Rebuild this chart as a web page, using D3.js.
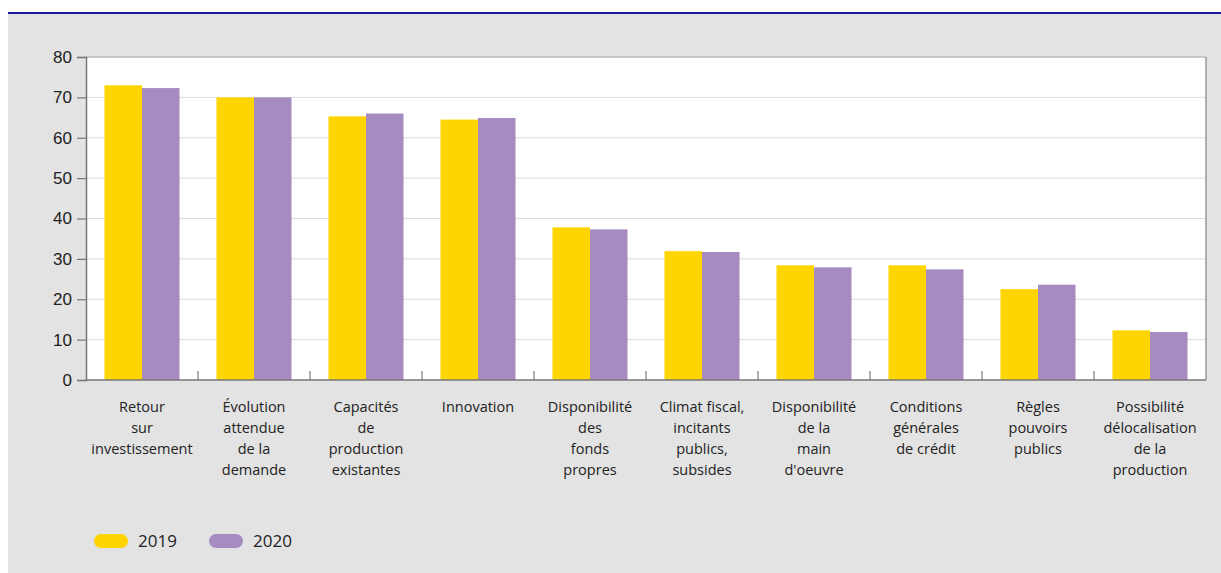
<!DOCTYPE html>
<html><head><meta charset="utf-8">
<script src="https://cdn.jsdelivr.net/npm/d3@7"></script>
<style>body{margin:0;background:#fff;}svg{display:block;font-family:"Open Sans","Noto Sans",sans-serif;}</style>
</head><body>
<svg id="c" width="1221" height="573"></svg>
<script>
const categories = [
  ["Retour","sur","investissement"],
  ["Évolution","attendue","de la","demande"],
  ["Capacités","de","production","existantes"],
  ["Innovation"],
  ["Disponibilité","des","fonds","propres"],
  ["Climat fiscal,","incitants","publics,","subsides"],
  ["Disponibilité","de la","main","d'oeuvre"],
  ["Conditions","générales","de crédit"],
  ["Règles","pouvoirs","publics"],
  ["Possibilité","délocalisation","de la","production"]
];
const seriesNames = ["2019","2020"];
const values2019 = [73, 70, 65.3, 64.5, 37.8, 31.9, 28.4, 28.4, 22.5, 12.3];
const values2020 = [72.3, 70, 66, 64.9, 37.3, 31.7, 27.9, 27.4, 23.6, 11.9];
const yTicks = [0,10,20,30,40,50,60,70,80];
const colors = ["#FFD500","#A68BC0"];

const svg = d3.select("#c");
svg.append("rect").attr("x",8).attr("y",14).attr("width",1213).attr("height",559).attr("fill","#e3e3e3");
svg.append("line").attr("x1",8).attr("x2",1221).attr("y1",13).attr("y2",13).attr("stroke","#1a1a9c").attr("stroke-width",2);

const L=86,R=1206,T=57,B=380;
const idx = categories.map((d,i)=>i);
const x0 = d3.scaleBand().domain(idx).range([L,R]).paddingInner(0.33).paddingOuter(0.165);
const x1 = d3.scaleBand().domain([0,1]).range([0,x0.bandwidth()]);
const y = d3.scaleLinear().domain([0,80]).range([B,T]);

svg.append("rect").attr("x",L).attr("y",T).attr("width",R-L).attr("height",B-T).attr("fill","#fff");
// grid
svg.append("g").selectAll("line").data(yTicks.filter(t=>t>0)).join("line")
  .attr("x1",L).attr("x2",R).attr("y1",d=>y(d)).attr("y2",d=>y(d))
  .attr("stroke",d=>d===80?"#bdbdbd":"#dcdcdc").attr("stroke-width",d=>d===80?1.5:1);
// right border
svg.append("line").attr("x1",R).attr("x2",R).attr("y1",T).attr("y2",B).attr("stroke","#9a9a9a").attr("stroke-width",1.5);

const data = idx.map(i=>[values2019[i],values2020[i]]);
const g = svg.append("g").selectAll("g").data(data).join("g").attr("transform",(d,i)=>`translate(${x0(i)},0)`);
g.selectAll("rect").data(d=>d).join("rect")
  .attr("x",(d,j)=>x1(j)).attr("width",x1.bandwidth())
  .attr("y",d=>y(d)).attr("height",d=>B-y(d)).attr("fill",(d,j)=>colors[j]);

// y axis
const ya = svg.append("g").attr("transform",`translate(${L},0)`).call(d3.axisLeft(y).tickValues(yTicks).tickSize(9).tickPadding(5));
ya.select(".domain").attr("stroke","#777").attr("stroke-width",1.5);
ya.selectAll(".tick line").attr("stroke","#777").attr("stroke-width",1.2);
ya.selectAll("text").attr("font-size",17).attr("fill","#222");

// x axis
const step = x0.step();
svg.append("line").attr("x1",L).attr("x2",R).attr("y1",B).attr("y2",B).attr("stroke","#777").attr("stroke-width",1.5);
svg.append("g").selectAll("line").data(d3.range(1,categories.length)).join("line")
  .attr("x1",d=>L+d*step).attr("x2",d=>L+d*step).attr("y1",B).attr("y2",B-9).attr("stroke","#777").attr("stroke-width",1.2);

const lab = svg.append("g").selectAll("text").data(categories).join("text")
  .attr("x",(d,i)=>x0(i)+x0.bandwidth()/2).attr("y",412).attr("text-anchor","middle")
  .attr("font-size",14.5).attr("fill","#222");
lab.selectAll("tspan").data(d=>d).join("tspan").attr("x",function(){return this.parentNode.getAttribute("x");})
  .attr("dy",(d,k)=>k===0?0:21).text(d=>d);

// legend
const leg = svg.append("g").selectAll("g").data(seriesNames).join("g")
  .attr("transform",(d,i)=>`translate(${94+i*115},534)`);
leg.append("rect").attr("width",34).attr("height",14).attr("rx",7).attr("fill",(d,i)=>colors[i]);
leg.append("text").attr("x",44).attr("y",13).attr("font-size",17).attr("fill","#222").text(d=>d);
</script>
</body></html>
